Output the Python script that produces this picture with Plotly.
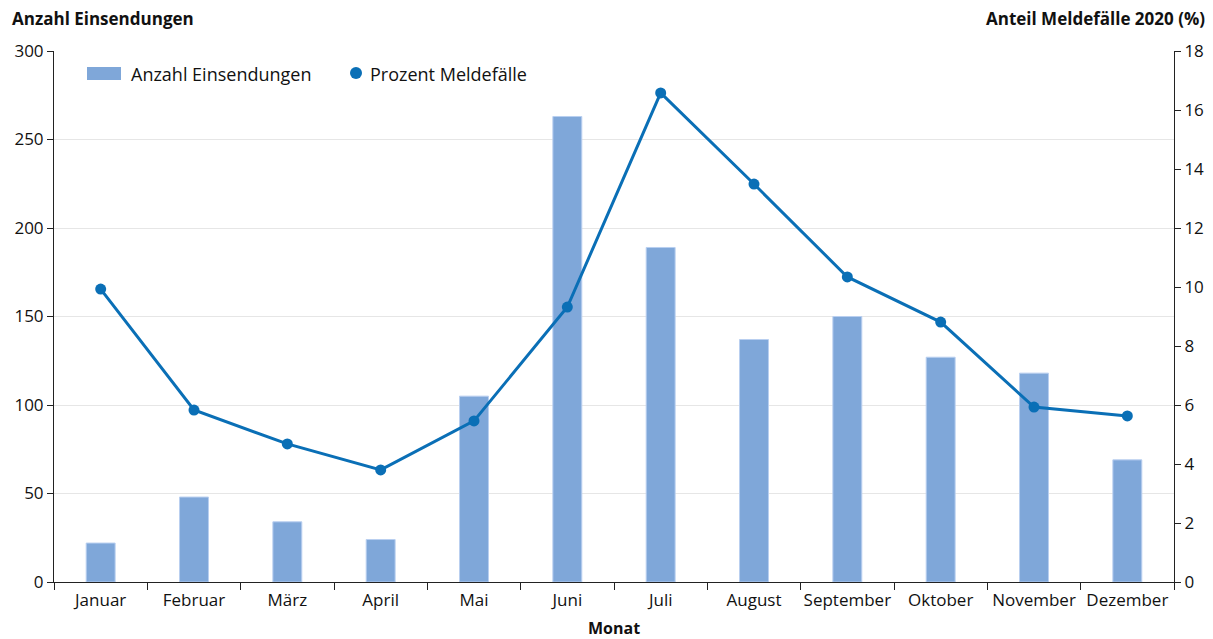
import plotly.graph_objects as go

monate = ["Januar", "Februar", "März", "April", "Mai", "Juni", "Juli",
          "August", "September", "Oktober", "November", "Dezember"]
einsendungen = [22, 48, 34, 24, 105, 263, 189, 137, 150, 127, 118, 69]
prozent = [9.93, 5.83, 4.68, 3.80, 5.46, 9.32, 16.58, 13.49, 10.34, 8.81, 5.93, 5.63]

BAR = "#7fa7d9"
LINE = "#0a6fb6"
FONT = "Open Sans"
W, H = 1213, 639
L, R, T, B = 54, 39, 51, 57
PW, PH = W - L - R, H - T - B


def px(x):
    return (x - L) / PW


def py(y):
    return (H - B - y) / PH


fig = go.Figure()
fig.add_trace(go.Bar(x=monate, y=einsendungen, name="Anzahl Einsendungen",
                     marker=dict(color=BAR, line=dict(color="#b9cff0", width=1)),
                     width=0.31, yaxis="y", showlegend=False))
fig.add_trace(go.Scatter(x=monate, y=prozent, mode="lines+markers", name="Prozent Meldefälle",
                         line=dict(color=LINE, width=3), marker=dict(color=LINE, size=11),
                         yaxis="y2", showlegend=False))

fig.update_layout(
    width=W, height=H,
    margin=dict(l=L, r=R, t=T, b=B, autoexpand=False),
    paper_bgcolor="white", plot_bgcolor="white",
    font=dict(family=FONT, size=17, color="#111111"),
    xaxis=dict(type="category", range=[-0.5, len(monate) - 0.5],
               showline=True, linecolor="#222", linewidth=1,
               ticks="outside", tickson="boundaries", ticklen=7, tickcolor="#222",
               ticklabelstandoff=3,
               tickangle=0, showgrid=False, automargin=False, tickfont=dict(size=17)),
    yaxis=dict(range=[0, 300], dtick=50, showline=True, linecolor="#222",
               ticks="outside", ticklen=6, tickcolor="#222", automargin=False,
               showgrid=True, gridcolor="#e6e6e6", gridwidth=1, zeroline=False,
               tickfont=dict(size=17)),
    yaxis2=dict(range=[0, 18], dtick=2, overlaying="y", side="right", showline=True,
                linecolor="#222", ticks="outside", ticklen=6, tickcolor="#222",
                automargin=False, showgrid=False, zeroline=False, tickfont=dict(size=17)),
    showlegend=False,
    shapes=[
        dict(type="rect", xref="paper", yref="paper",
             x0=px(87), x1=px(121), y0=py(80), y1=py(67),
             fillcolor=BAR, line=dict(width=0)),
        dict(type="circle", xref="paper", yref="paper",
             x0=px(350), x1=px(362), y0=py(79), y1=py(67),
             fillcolor=LINE, line=dict(width=0)),
    ],
    annotations=[
        dict(text="Anzahl Einsendungen", xref="paper", yref="paper",
             x=px(129), y=py(74), xanchor="left", yanchor="middle",
             showarrow=False, font=dict(size=18)),
        dict(text="Prozent Meldefälle", xref="paper", yref="paper",
             x=px(368), y=py(74), xanchor="left", yanchor="middle",
             showarrow=False, font=dict(size=18)),
        dict(text="<b>Anzahl Einsendungen</b>", xref="paper", yref="paper",
             x=px(10), y=py(18), xanchor="left", yanchor="middle",
             showarrow=False, font=dict(size=17)),
        dict(text="<b>Anteil Meldefälle 2020 (%)</b>", xref="paper", yref="paper",
             x=px(1207), y=py(18), xanchor="right", yanchor="middle",
             showarrow=False, font=dict(size=17)),
        dict(text="<b>Monat</b>", xref="paper", yref="paper",
             x=0.5, y=py(628), xanchor="center", yanchor="middle",
             showarrow=False, font=dict(size=16)),
    ],
)

fig.write_html("out.html", post_script="document.body.style.margin='0';",
               config={"displayModeBar": False})
